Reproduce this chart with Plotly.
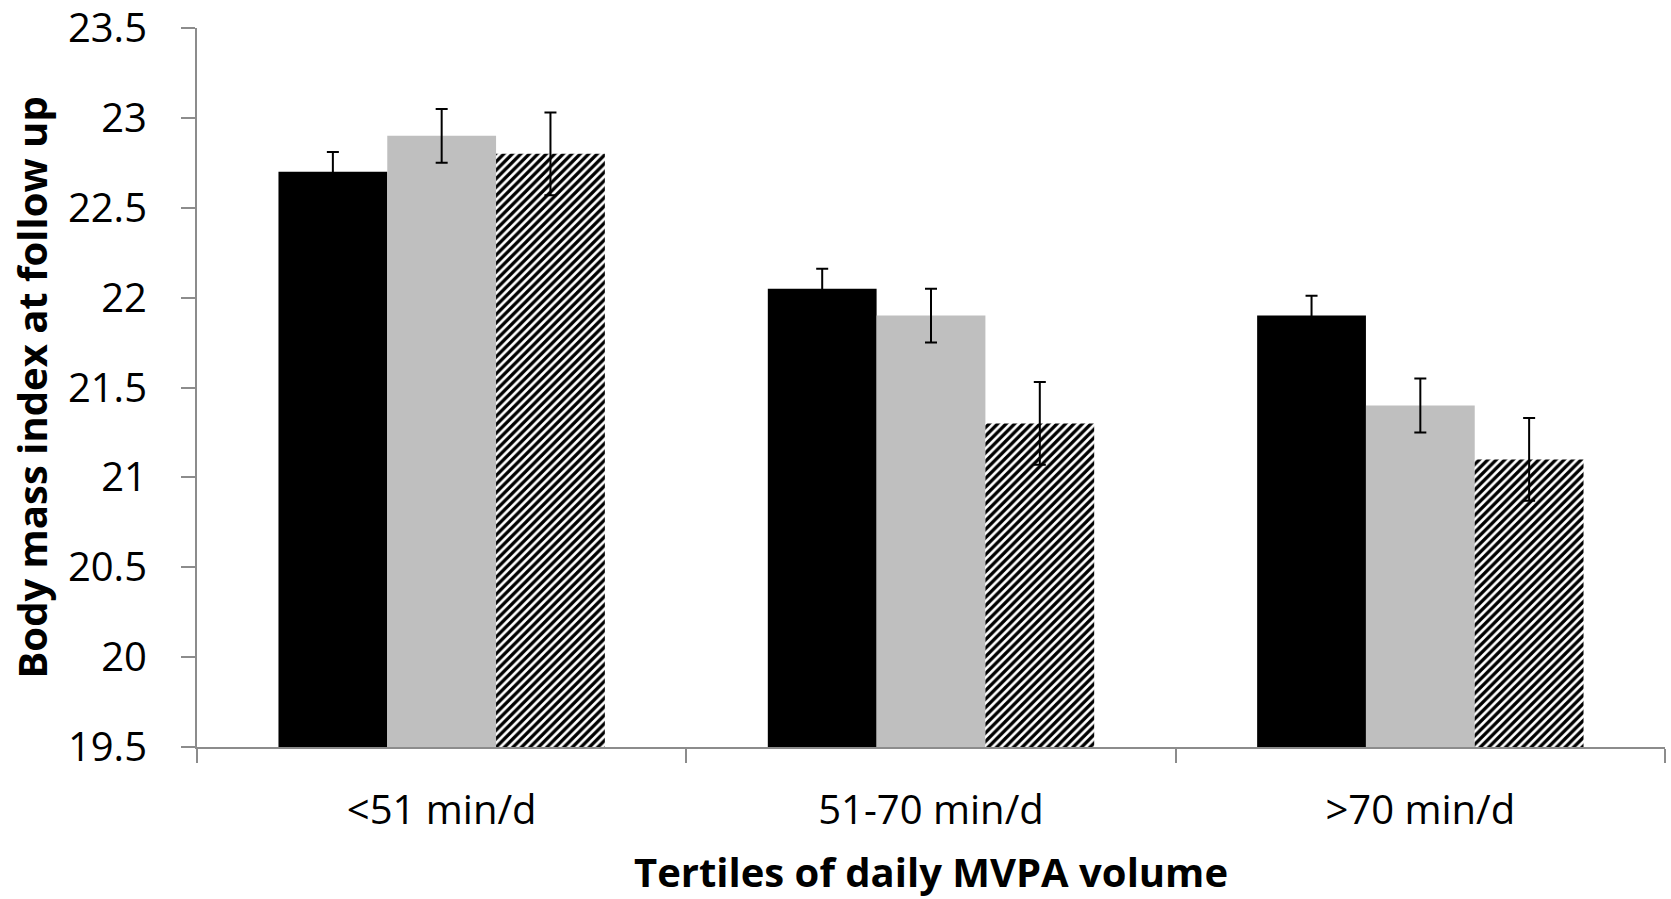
import plotly.graph_objects as go

categories = ["<51 min/d", "51-70 min/d", ">70 min/d"]
series_a = [22.7, 22.05, 21.9]
series_a_err = [0.11, 0.11, 0.11]
series_b = [22.9, 21.9, 21.4]
series_b_err = [0.15, 0.15, 0.15]
series_c = [22.8, 21.3, 21.1]
series_c_err = [0.23, 0.23, 0.23]
y_ticks = [19.5, 20, 20.5, 21, 21.5, 22, 22.5, 23, 23.5]
y_tick_labels = ["19.5", "20", "20.5", "21", "21.5", "22", "22.5", "23", "23.5"]
x_title = "Tertiles of daily MVPA volume"
y_title = "Body mass index at follow up"

FONT = "Open Sans"
err_style = dict(type="data", visible=True, color="black", thickness=2, width=6)

fig = go.Figure()
fig.add_trace(go.Bar(x=categories, y=series_a, marker=dict(color="black", line=dict(width=0)),
                     error_y=dict(array=series_a_err, **err_style), showlegend=False))
fig.add_trace(go.Bar(x=categories, y=series_b, marker=dict(color="#BFBFBF", line=dict(width=0)),
                     error_y=dict(array=series_b_err, **err_style), showlegend=False))
fig.add_trace(go.Bar(x=categories, y=series_c,
                     marker=dict(color="white", line=dict(width=0),
                                 pattern=dict(shape="/", fgcolor="black", bgcolor="white",
                                              size=6, solidity=0.55, fillmode="replace")),
                     error_y=dict(array=series_c_err, **err_style), showlegend=False))

fig.update_layout(
    width=1671, height=899,
    margin=dict(l=197, r=6, t=28, b=152),
    paper_bgcolor="white", plot_bgcolor="white",
    barmode="group", bargap=0.333, bargroupgap=0,
    font=dict(family=FONT, size=40, color="black"),
)
fig.update_xaxes(
    automargin=False,
    showline=True, linecolor="#8C8C8C", linewidth=2,
    ticks="outside", tickson="boundaries", ticklen=14, tickcolor="#8C8C8C", tickwidth=2,
    showgrid=False, ticklabelstandoff=27,
    tickfont=dict(family=FONT, size=40, color="black"),
    title=dict(text="<b>" + x_title + "</b>", font=dict(family=FONT, size=40), standoff=24),
)
fig.update_yaxes(
    automargin=False, ticklabeloverflow="allow",
    range=[19.5, 23.5], tickvals=y_ticks, ticktext=y_tick_labels,
    showline=True, linecolor="#8C8C8C", linewidth=2,
    ticks="outside", ticklen=14, tickcolor="#8C8C8C", tickwidth=2,
    showgrid=False, zeroline=False, ticklabelstandoff=26,
    tickfont=dict(family=FONT, size=40, color="black"),
)
fig.add_annotation(
    text="<b>" + y_title + "</b>", textangle=-90,
    xref="paper", yref="paper", x=0, y=0.5, xanchor="center", yanchor="middle",
    xshift=-166, showarrow=False, font=dict(family=FONT, size=40, color="black"),
)

fig.write_html("out.html", config={"displayModeBar": False},
               post_script="document.body.style.margin='0px';")
